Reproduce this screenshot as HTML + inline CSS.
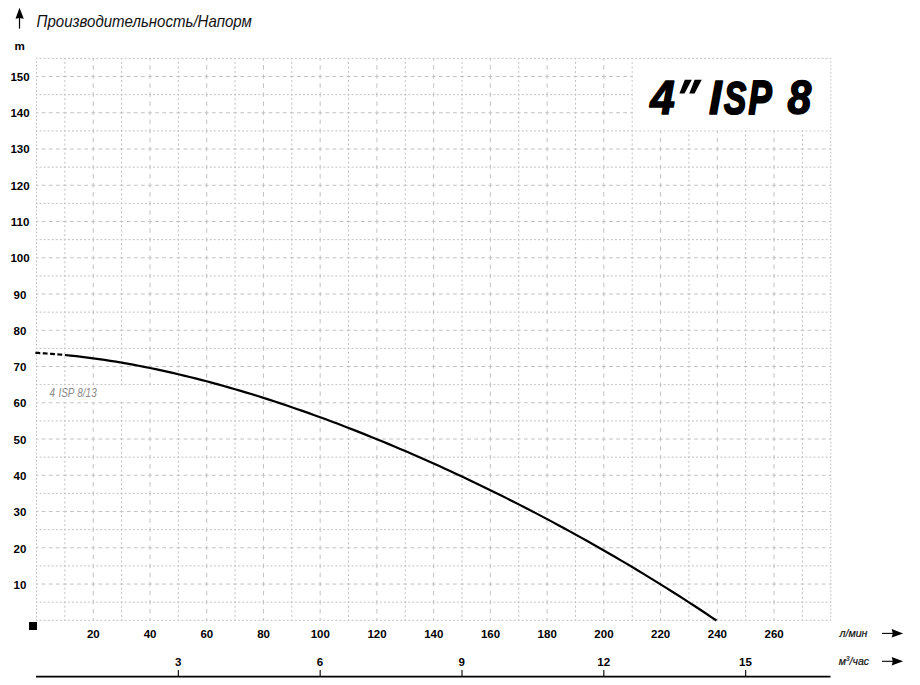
<!DOCTYPE html>
<html><head><meta charset="utf-8">
<style>
html,body{margin:0;padding:0;background:#fff;}
body{width:920px;height:685px;overflow:hidden;position:relative;}
svg{position:absolute;left:0;top:0;display:block;}
svg text{font-family:"Liberation Sans",sans-serif;}
</style></head><body>
<svg width="920" height="685" viewBox="0 0 920 685">
<rect width="920" height="685" fill="#fff"/>
<g stroke="#c2c2c2" stroke-width="1" fill="none">
<line x1="36.5" y1="58.38" x2="36.5" y2="620.30" stroke-dasharray="1.8 1.825" stroke-dashoffset="0.900"/>
<line x1="64.87" y1="58.38" x2="64.87" y2="620.30" stroke-dasharray="2.1 2.432" stroke-dashoffset="1.050"/>
<line x1="93.23" y1="58.38" x2="93.23" y2="620.30" stroke-dasharray="4.6 4.463" stroke-dashoffset="2.300"/>
<line x1="121.6" y1="58.38" x2="121.6" y2="620.30" stroke-dasharray="2.1 2.432" stroke-dashoffset="1.050"/>
<line x1="149.97" y1="58.38" x2="149.97" y2="620.30" stroke-dasharray="4.6 4.463" stroke-dashoffset="2.300"/>
<line x1="178.34" y1="58.38" x2="178.34" y2="620.30" stroke-dasharray="2.1 2.432" stroke-dashoffset="1.050"/>
<line x1="206.7" y1="58.38" x2="206.7" y2="620.30" stroke-dasharray="4.6 4.463" stroke-dashoffset="2.300"/>
<line x1="235.07" y1="58.38" x2="235.07" y2="620.30" stroke-dasharray="2.1 2.432" stroke-dashoffset="1.050"/>
<line x1="263.44" y1="58.38" x2="263.44" y2="620.30" stroke-dasharray="4.6 4.463" stroke-dashoffset="2.300"/>
<line x1="291.8" y1="58.38" x2="291.8" y2="620.30" stroke-dasharray="2.1 2.432" stroke-dashoffset="1.050"/>
<line x1="320.17" y1="58.38" x2="320.17" y2="620.30" stroke-dasharray="4.6 4.463" stroke-dashoffset="2.300"/>
<line x1="348.54" y1="58.38" x2="348.54" y2="620.30" stroke-dasharray="2.1 2.432" stroke-dashoffset="1.050"/>
<line x1="376.9" y1="58.38" x2="376.9" y2="620.30" stroke-dasharray="4.6 4.463" stroke-dashoffset="2.300"/>
<line x1="405.27" y1="58.38" x2="405.27" y2="620.30" stroke-dasharray="2.1 2.432" stroke-dashoffset="1.050"/>
<line x1="433.64" y1="58.38" x2="433.64" y2="620.30" stroke-dasharray="4.6 4.463" stroke-dashoffset="2.300"/>
<line x1="462.0" y1="58.38" x2="462.0" y2="620.30" stroke-dasharray="2.1 2.432" stroke-dashoffset="1.050"/>
<line x1="490.37" y1="58.38" x2="490.37" y2="620.30" stroke-dasharray="4.6 4.463" stroke-dashoffset="2.300"/>
<line x1="518.74" y1="58.38" x2="518.74" y2="620.30" stroke-dasharray="2.1 2.432" stroke-dashoffset="1.050"/>
<line x1="547.11" y1="58.38" x2="547.11" y2="620.30" stroke-dasharray="4.6 4.463" stroke-dashoffset="2.300"/>
<line x1="575.47" y1="58.38" x2="575.47" y2="620.30" stroke-dasharray="2.1 2.432" stroke-dashoffset="1.050"/>
<line x1="603.84" y1="58.38" x2="603.84" y2="620.30" stroke-dasharray="4.6 4.463" stroke-dashoffset="2.300"/>
<line x1="632.21" y1="58.38" x2="632.21" y2="620.30" stroke-dasharray="2.1 2.432" stroke-dashoffset="1.050"/>
<line x1="660.57" y1="58.38" x2="660.57" y2="620.30" stroke-dasharray="4.6 4.463" stroke-dashoffset="2.300"/>
<line x1="688.94" y1="58.38" x2="688.94" y2="620.30" stroke-dasharray="2.1 2.432" stroke-dashoffset="1.050"/>
<line x1="717.31" y1="58.38" x2="717.31" y2="620.30" stroke-dasharray="4.6 4.463" stroke-dashoffset="2.300"/>
<line x1="745.67" y1="58.38" x2="745.67" y2="620.30" stroke-dasharray="2.1 2.432" stroke-dashoffset="1.050"/>
<line x1="774.04" y1="58.38" x2="774.04" y2="620.30" stroke-dasharray="4.6 4.463" stroke-dashoffset="2.300"/>
<line x1="802.41" y1="58.38" x2="802.41" y2="620.30" stroke-dasharray="2.1 2.432" stroke-dashoffset="1.050"/>
<line x1="830.78" y1="58.38" x2="830.78" y2="620.30" stroke-dasharray="1.8 1.825" stroke-dashoffset="0.900"/>
<line x1="36.50" y1="620.3" x2="830.78" y2="620.3" stroke-dasharray="2.0 2.052" stroke-dashoffset="1.000"/>
<line x1="36.50" y1="602.17" x2="830.78" y2="602.17" stroke-dasharray="2.0 2.052" stroke-dashoffset="1.000"/>
<line x1="36.50" y1="584.05" x2="830.78" y2="584.05" stroke-dasharray="3.8 3.292" stroke-dashoffset="1.900"/>
<line x1="36.50" y1="565.92" x2="830.78" y2="565.92" stroke-dasharray="2.0 2.052" stroke-dashoffset="1.000"/>
<line x1="36.50" y1="547.79" x2="830.78" y2="547.79" stroke-dasharray="3.8 3.292" stroke-dashoffset="1.900"/>
<line x1="36.50" y1="529.67" x2="830.78" y2="529.67" stroke-dasharray="2.0 2.052" stroke-dashoffset="1.000"/>
<line x1="36.50" y1="511.54" x2="830.78" y2="511.54" stroke-dasharray="3.8 3.292" stroke-dashoffset="1.900"/>
<line x1="36.50" y1="493.41" x2="830.78" y2="493.41" stroke-dasharray="2.0 2.052" stroke-dashoffset="1.000"/>
<line x1="36.50" y1="475.29" x2="830.78" y2="475.29" stroke-dasharray="3.8 3.292" stroke-dashoffset="1.900"/>
<line x1="36.50" y1="457.16" x2="830.78" y2="457.16" stroke-dasharray="2.0 2.052" stroke-dashoffset="1.000"/>
<line x1="36.50" y1="439.03" x2="830.78" y2="439.03" stroke-dasharray="3.8 3.292" stroke-dashoffset="1.900"/>
<line x1="36.50" y1="420.91" x2="830.78" y2="420.91" stroke-dasharray="2.0 2.052" stroke-dashoffset="1.000"/>
<line x1="36.50" y1="402.78" x2="830.78" y2="402.78" stroke-dasharray="3.8 3.292" stroke-dashoffset="1.900"/>
<line x1="36.50" y1="384.66" x2="830.78" y2="384.66" stroke-dasharray="2.0 2.052" stroke-dashoffset="1.000"/>
<line x1="36.50" y1="366.53" x2="830.78" y2="366.53" stroke-dasharray="3.8 3.292" stroke-dashoffset="1.900"/>
<line x1="36.50" y1="348.4" x2="830.78" y2="348.4" stroke-dasharray="2.0 2.052" stroke-dashoffset="1.000"/>
<line x1="36.50" y1="330.28" x2="830.78" y2="330.28" stroke-dasharray="3.8 3.292" stroke-dashoffset="1.900"/>
<line x1="36.50" y1="312.15" x2="830.78" y2="312.15" stroke-dasharray="2.0 2.052" stroke-dashoffset="1.000"/>
<line x1="36.50" y1="294.02" x2="830.78" y2="294.02" stroke-dasharray="3.8 3.292" stroke-dashoffset="1.900"/>
<line x1="36.50" y1="275.9" x2="830.78" y2="275.9" stroke-dasharray="2.0 2.052" stroke-dashoffset="1.000"/>
<line x1="36.50" y1="257.77" x2="830.78" y2="257.77" stroke-dasharray="3.8 3.292" stroke-dashoffset="1.900"/>
<line x1="36.50" y1="239.64" x2="830.78" y2="239.64" stroke-dasharray="2.0 2.052" stroke-dashoffset="1.000"/>
<line x1="36.50" y1="221.52" x2="830.78" y2="221.52" stroke-dasharray="3.8 3.292" stroke-dashoffset="1.900"/>
<line x1="36.50" y1="203.39" x2="830.78" y2="203.39" stroke-dasharray="2.0 2.052" stroke-dashoffset="1.000"/>
<line x1="36.50" y1="185.26" x2="830.78" y2="185.26" stroke-dasharray="3.8 3.292" stroke-dashoffset="1.900"/>
<line x1="36.50" y1="167.14" x2="830.78" y2="167.14" stroke-dasharray="2.0 2.052" stroke-dashoffset="1.000"/>
<line x1="36.50" y1="149.01" x2="830.78" y2="149.01" stroke-dasharray="3.8 3.292" stroke-dashoffset="1.900"/>
<line x1="36.50" y1="130.88" x2="830.78" y2="130.88" stroke-dasharray="2.0 2.052" stroke-dashoffset="1.000"/>
<line x1="36.50" y1="112.76" x2="830.78" y2="112.76" stroke-dasharray="3.8 3.292" stroke-dashoffset="1.900"/>
<line x1="36.50" y1="94.63" x2="830.78" y2="94.63" stroke-dasharray="2.0 2.052" stroke-dashoffset="1.000"/>
<line x1="36.50" y1="76.5" x2="830.78" y2="76.5" stroke-dasharray="3.8 3.292" stroke-dashoffset="1.900"/>
<line x1="36.50" y1="58.38" x2="830.78" y2="58.38" stroke-dasharray="2.0 2.052" stroke-dashoffset="1.000"/>
</g>
<rect x="632.81" y="58.98" width="197.37" height="71.31" fill="#fff"/>
<g font-size="49" font-weight="bold" font-style="italic" fill="#000" stroke="#000" stroke-width="1.6" stroke-linejoin="round">
<text transform="translate(650.2,114) scale(0.9,1)">4</text>
<text transform="translate(709.1,114) scale(0.93,1)">I</text>
<text transform="translate(723.9,113.6) scale(0.68,0.955)" stroke-width="2.2">S</text>
<text transform="translate(748.6,114) scale(0.71,0.99)" stroke-width="2.2">P</text>
<text transform="translate(787.4,114) scale(0.87,1)">8</text>
</g>
<path d="M684.8 79.8 L691.8 79.8 L684.5 93.6 L679.4 93.6 Z M694.6 79.8 L701.7 79.8 L694.6 93.6 L689.3 93.6 Z" fill="#000"/>
<!-- curve -->
<polyline points="35.37,352.80 36.78,352.88 38.20,352.96 39.62,353.04 41.04,353.13 42.46,353.22 43.88,353.31 45.29,353.41 46.71,353.50 48.13,353.61 49.55,353.71 50.97,353.82 52.39,353.93 53.80,354.04 55.22,354.15 56.64,354.27 58.06,354.39 59.48,354.52 60.90,354.65 62.31,354.78" fill="none" stroke="#000" stroke-width="2.2" stroke-dasharray="4.9 2.45"/>
<polyline points="64.87,355.02 70.54,355.59 76.21,356.20 81.89,356.86 87.56,357.56 93.23,358.31 98.91,359.09 104.58,359.92 110.25,360.79 115.93,361.70 121.60,362.65 127.27,363.64 132.95,364.66 138.62,365.73 144.29,366.83 149.97,367.97 155.64,369.15 161.31,370.36 166.99,371.61 172.66,372.89 178.34,374.21 184.01,375.57 189.68,376.95 195.36,378.37 201.03,379.82 206.70,381.31 212.38,382.83 218.05,384.37 223.72,385.95 229.40,387.57 235.07,389.21 240.74,390.88 246.42,392.58 252.09,394.31 257.76,396.07 263.44,397.86 269.11,399.67 274.78,401.52 280.46,403.39 286.13,405.29 291.80,407.22 297.48,409.17 303.15,411.15 308.82,413.16 314.50,415.19 320.17,417.25 325.84,419.33 331.52,421.44 337.19,423.58 342.86,425.73 348.54,427.92 354.21,430.13 359.88,432.36 365.56,434.62 371.23,436.90 376.90,439.20 382.58,441.53 388.25,443.89 393.92,446.26 399.60,448.66 405.27,451.08 410.94,453.53 416.62,456.00 422.29,458.49 427.96,461.01 433.64,463.55 439.31,466.11 444.98,468.69 450.66,471.30 456.33,473.93 462.00,476.58 467.68,479.25 473.35,481.95 479.03,484.67 484.70,487.41 490.37,490.18 496.05,492.97 501.72,495.78 507.39,498.62 513.07,501.47 518.74,504.36 524.41,507.26 530.09,510.19 535.76,513.14 541.43,516.11 547.11,519.11 552.78,522.13 558.45,525.18 564.13,528.25 569.80,531.35 575.47,534.47 581.15,537.61 586.82,540.78 592.49,543.97 598.17,547.19 603.84,550.44 609.51,553.71 615.19,557.00 620.86,560.33 626.53,563.67 632.21,567.05 637.88,570.45 643.55,573.88 649.23,577.34 654.90,580.83 660.57,584.34 666.25,587.88 671.92,591.45 677.59,595.05 683.27,598.68 688.94,602.34 694.61,606.03 700.29,609.75 705.96,613.50 711.63,617.29 716.46,620.53" fill="none" stroke="#000" stroke-width="2.2" stroke-linejoin="round"/>
<rect x="37.2" y="385.36" width="127" height="16.73" fill="#fff"/>
<text transform="translate(49.6,396.9) scale(0.83,1)" font-size="12" font-style="italic" fill="#8a8a8a" word-spacing="0.6">4 ISP 8/13</text>
<!-- y axis -->
<path d="M19.5 28.6 V17" stroke="#000" stroke-width="1.2"/>
<path d="M19.5 7.8 L23.8 18.8 L19.5 18 L15.5 18.8 Z" fill="#000"/>
<text transform="translate(36.6,26.9) scale(0.94,1)" font-size="16" font-style="italic" fill="#111">Производительность/Напорм</text>
<text x="19.6" y="49.9" font-size="11.6" font-weight="bold" text-anchor="middle" fill="#000">m</text>
<g font-size="11.5" font-weight="bold" text-anchor="middle" fill="#000">
<text x="20" y="589">10</text>
<text x="20" y="553">20</text>
<text x="20" y="516">30</text>
<text x="20" y="480">40</text>
<text x="20" y="444">50</text>
<text x="20" y="407">60</text>
<text x="20" y="371">70</text>
<text x="20" y="335">80</text>
<text x="20" y="299">90</text>
<text x="20" y="262">100</text>
<text x="20" y="226">110</text>
<text x="20" y="190">120</text>
<text x="20" y="153">130</text>
<text x="20" y="117">140</text>
<text x="20" y="81">150</text>
<text x="93.33" y="638">20</text>
<text x="150.07" y="638">40</text>
<text x="206.80" y="638">60</text>
<text x="263.54" y="638">80</text>
<text x="320.27" y="638">100</text>
<text x="377.00" y="638">120</text>
<text x="433.74" y="638">140</text>
<text x="490.47" y="638">160</text>
<text x="547.21" y="638">180</text>
<text x="603.94" y="638">200</text>
<text x="660.67" y="638">220</text>
<text x="717.41" y="638">240</text>
<text x="774.14" y="638">260</text>
<text x="178.14" y="666">3</text>
<text x="319.97" y="666">6</text>
<text x="461.81" y="666">9</text>
<text x="603.64" y="666">12</text>
<text x="745.47" y="666">15</text>
</g>
<rect x="29" y="622" width="8" height="8" fill="#000"/>
<line x1="36" y1="676.7" x2="830.5" y2="676.7" stroke="#000" stroke-width="1.8"/>
<g stroke="#000" stroke-width="1.1">
<line x1="178.34" y1="670" x2="178.34" y2="677"/>
<line x1="320.17" y1="670" x2="320.17" y2="677"/>
<line x1="462.00" y1="670" x2="462.00" y2="677"/>
<line x1="603.84" y1="670" x2="603.84" y2="677"/>
<line x1="745.67" y1="670" x2="745.67" y2="677"/>
</g>
<text transform="translate(839.4,637) scale(0.97,1)" font-size="11" font-style="italic" fill="#111" stroke="#111" stroke-width="0.2">л/мин</text>
<text transform="translate(838.8,664.8) scale(0.96,1)" font-size="11" font-style="italic" fill="#111" stroke="#111" stroke-width="0.2">м<tspan font-size="6.5" dy="-4.2">3</tspan><tspan dy="4.2">/час</tspan></text>
<path d="M882 633.4 H893" stroke="#000" stroke-width="1.1"/>
<path d="M903.1 633.4 L891.7 629.1 L892.8 633.4 L891.7 637.5 Z" fill="#000"/>
<path d="M882 661.3 H893" stroke="#000" stroke-width="1.1"/>
<path d="M903.1 661.3 L891.7 657 L892.8 661.3 L891.7 665.4 Z" fill="#000"/>
</svg>
</body></html>
